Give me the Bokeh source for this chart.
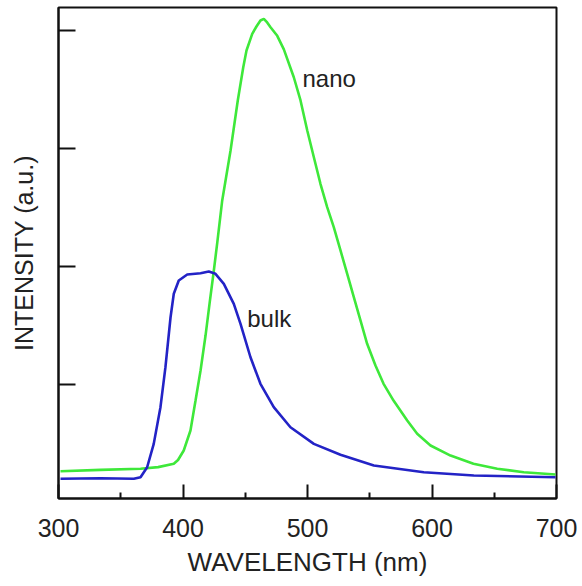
from bokeh.plotting import figure
from bokeh.models import FixedTicker, Range1d
from bokeh.core.properties import value
from bokeh.embed import file_html
from bokeh.resources import INLINE

# nano (green) spectrum: wavelength (nm), intensity (a.u.)
nano_wl = [301.6, 333.7, 365.9, 380.0, 392.6, 396.0, 400.6, 406.0, 410.0, 414.1,
           418.1, 421.5, 424.7, 427.5, 431.5, 438.2, 444.0, 448.4, 451.0, 455.6,
           459.0, 462.2, 464.9, 467.6, 470.3, 475.7, 481.0, 489.0, 494.4, 499.8,
           505.1, 510.4, 515.8, 521.1, 526.5, 531.9, 537.2, 542.6, 547.9, 554.6,
           561.0, 569.1, 580.1, 588.1, 598.8, 614.9, 633.3, 652.4, 673.7, 699.2]
nano_int = [0.265, 0.277, 0.286, 0.300, 0.328, 0.360, 0.441, 0.610, 0.860, 1.119,
            1.415, 1.700, 1.960, 2.200, 2.560, 2.983, 3.407, 3.689, 3.831, 3.972,
            4.034, 4.085, 4.099, 4.068, 4.028, 3.955, 3.840, 3.604, 3.407, 3.153,
            2.926, 2.701, 2.503, 2.333, 2.136, 1.938, 1.740, 1.542, 1.345, 1.161,
            1.008, 0.864, 0.695, 0.582, 0.483, 0.398, 0.328, 0.286, 0.257, 0.237]

# bulk (blue) spectrum
bulk_wl = [301.6, 333.7, 360.5, 365.9, 371.2, 376.5, 381.9, 385.9, 390.0, 392.6,
           396.6, 403.4, 414.1, 420.7, 426.1, 432.8, 440.8, 446.2, 454.2, 462.2,
           472.9, 486.3, 505.1, 526.5, 553.3, 593.4, 633.6, 699.2]
bulk_int = [0.201, 0.206, 0.201, 0.214, 0.299, 0.497, 0.808, 1.147, 1.570, 1.769,
            1.881, 1.932, 1.943, 1.958, 1.938, 1.853, 1.684, 1.514, 1.231, 1.006,
            0.808, 0.638, 0.497, 0.405, 0.314, 0.257, 0.229, 0.214]

x_ticks = [300, 400, 500, 600, 700]
x_minor = [350, 450, 550, 650]
y_ticks = [1, 2, 3, 4]

series_names = ["nano", "bulk"]
name_pos_x = [496, 451.6]
name_pos_y = [3.59, 1.557]

FONT = "Liberation Sans"
TXT = "#222222"

p = figure(width=580, height=584, output_backend="svg", toolbar_location=None,
           x_range=Range1d(300, 700), y_range=Range1d(0.034, 4.195),
           min_border_left=58, min_border_right=24, min_border_top=7,
           min_border_bottom=86)
p.grid.visible = False
p.background_fill_color = "white"
p.border_fill_color = "white"
p.outline_line_color = "#111111"
p.outline_line_width = 2
p.outline_line_alpha = 1

p.line(nano_wl, nano_int, line_color="#3ee83a", line_width=2.6)
p.line(bulk_wl, bulk_int, line_color="#2323c6", line_width=2.6)

p.text(x=name_pos_x, y=name_pos_y, text=series_names,
       text_font=value(FONT), text_font_size="24px", text_color=TXT,
       text_baseline="alphabetic", text_align="left")

xa = p.xaxis[0]
xa.ticker = FixedTicker(ticks=x_ticks, minor_ticks=x_minor)
xa.axis_line_color = "#111111"
xa.axis_line_width = 2
xa.major_tick_line_color = "#111111"
xa.major_tick_line_width = 2
xa.major_tick_in = 14
xa.major_tick_out = 0
xa.minor_tick_line_color = "#111111"
xa.minor_tick_line_width = 2
xa.minor_tick_in = 6
xa.minor_tick_out = 0
xa.major_label_text_font = FONT
xa.major_label_text_font_size = "25px"
xa.major_label_text_color = TXT
xa.major_label_standoff = 20
xa.axis_label = "WAVELENGTH (nm)"
xa.axis_label_text_font = FONT
xa.axis_label_text_font_size = "26px"
xa.axis_label_text_font_style = "normal"
xa.axis_label_text_color = TXT
xa.axis_label_standoff = 7

ya = p.yaxis[0]
ya.ticker = FixedTicker(ticks=y_ticks, minor_ticks=[])
ya.axis_line_color = "#111111"
ya.axis_line_width = 2
ya.major_tick_line_color = "#111111"
ya.major_tick_line_width = 2
ya.major_tick_in = 17
ya.major_tick_out = 0
ya.minor_tick_line_color = None
ya.major_label_overrides = {t: "" for t in y_ticks}
ya.major_label_standoff = 0
ya.axis_label = "INTENSITY (a.u.)"
ya.axis_label_text_font = FONT
ya.axis_label_text_font_size = "25px"
ya.axis_label_text_font_style = "normal"
ya.axis_label_text_color = TXT
ya.axis_label_standoff = 21

open("out.html", "w").write(file_html(p, INLINE))
